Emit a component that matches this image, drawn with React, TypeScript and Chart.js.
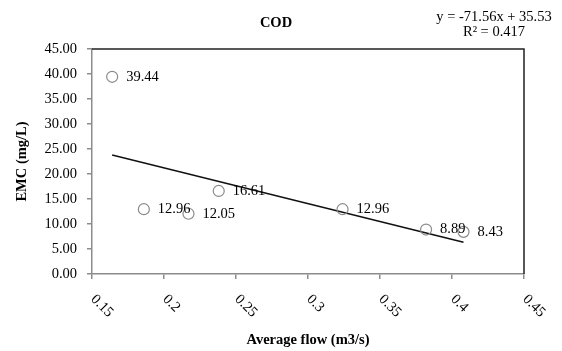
import React, { useEffect, useRef } from "react";
import { Chart, registerables } from "chart.js";

Chart.register(...registerables);

const chartTitle = "COD";
const xAxisTitle = "Average flow (m3/s)";
const yAxisTitle = "EMC (mg/L)";
const flowValues = [0.164, 0.186, 0.217, 0.238, 0.324, 0.382, 0.408];
const emcValues = [39.44, 12.96, 12.05, 16.61, 12.96, 8.89, 8.43];
const pointLabels = ["39.44", "12.96", "12.05", "16.61", "12.96", "8.89", "8.43"];
const xTickLabels = ["0.15", "0.2", "0.25", "0.3", "0.35", "0.4", "0.45"];
const trendSlope = -71.56;
const trendIntercept = 35.53;
const equationLines = ["y = -71.56x + 35.53", "R\u00b2 = 0.417"];

const FONT = "'Liberation Serif', 'Times New Roman', serif";

export default function App() {
  const ref = useRef<HTMLCanvasElement | null>(null);

  useEffect(() => {
    document.body.style.margin = "0";
    const canvas = ref.current;
    if (!canvas) return;

    const xMin = Math.min(...flowValues);
    const xMax = Math.max(...flowValues);
    const trendData = [
      { x: xMin, y: trendSlope * xMin + trendIntercept },
      { x: xMax, y: trendSlope * xMax + trendIntercept },
    ];

    const overlay = {
      id: "overlay",
      afterDraw(chart: any) {
        const ctx = chart.ctx as CanvasRenderingContext2D;
        const area = chart.chartArea;
        const xs = chart.scales.x;
        ctx.save();
        // plot border top/right
        ctx.strokeStyle = "#222";
        ctx.lineWidth = 1.5;
        ctx.beginPath();
        ctx.moveTo(area.left, area.top);
        ctx.lineTo(area.right, area.top);
        ctx.lineTo(area.right, area.bottom);
        ctx.stroke();

        // x tick labels rotated
        ctx.fillStyle = "#000";
        ctx.font = `14.5px ${FONT}`;
        ctx.textAlign = "left";
        ctx.textBaseline = "middle";
        xs.ticks.forEach((t: any, i: number) => {
          const px = xs.getPixelForValue(t.value);
          ctx.save();
          ctx.translate(px + 1, area.bottom + 23);
          ctx.rotate(Math.PI / 4);
          ctx.fillText(xTickLabels[i] ?? String(t.value), 0, 0);
          ctx.restore();
        });

        // data labels
        const meta = chart.getDatasetMeta(0);
        meta.data.forEach((el: any, i: number) => {
          ctx.fillText(pointLabels[i], el.x + 14, el.y);
        });

        // title
        ctx.font = `bold 14.5px ${FONT}`;
        ctx.textAlign = "center";
        ctx.fillText(chartTitle, 276, 23);

        // equation
        ctx.font = `14.5px ${FONT}`;
        ctx.fillText(equationLines[0], 494, 17);
        ctx.fillText(equationLines[1], 494, 32);

        // axis titles
        ctx.font = `bold 14.5px ${FONT}`;
        ctx.fillText(xAxisTitle, (area.left + area.right) / 2, 340);
        ctx.save();
        ctx.translate(22.5, (area.top + area.bottom) / 2);
        ctx.rotate(-Math.PI / 2);
        ctx.fillText(yAxisTitle, 0, 0);
        ctx.restore();
        ctx.restore();
      },
    };

    const chart = new Chart(canvas, {
      type: "scatter",
      data: {
        datasets: [
          {
            label: "EMC",
            data: flowValues.map((x, i) => ({ x, y: emcValues[i] })),
            pointStyle: "circle",
            pointRadius: 5.5,
            pointBorderColor: "#8a8a8a",
            pointBackgroundColor: "rgba(255,255,255,0)",
            pointBorderWidth: 1.2,
            showLine: false,
          },
          {
            type: "line",
            label: "Trend",
            data: trendData,
            borderColor: "#111",
            borderWidth: 1.5,
            pointRadius: 0,
            showLine: true,
            fill: false,
          } as any,
        ],
      },
      options: {
        responsive: false,
        animation: false,
        layout: { padding: { top: 49, right: 38, left: 0, bottom: 0 } },
        plugins: {
          legend: { display: false },
          tooltip: { enabled: false },
          title: { display: false },
        },
        scales: {
          x: {
            type: "linear",
            min: 0.15,
            max: 0.45,
            ticks: {
              stepSize: 0.05,
              color: "rgba(0,0,0,0)",
              font: { family: FONT, size: 14 },
              maxRotation: 0,
              callback: (_v: any, i: number) => xTickLabels[i],
            },
            grid: {
              drawOnChartArea: false,
              drawTicks: true,
              tickLength: 5,
              color: "#8c8c8c",
              lineWidth: 1.5,
            },
            border: { color: "#8c8c8c", width: 1.5 },
            afterFit: (s: any) => {
              s.height = 77;
            },
          },
          y: {
            type: "linear",
            min: 0,
            max: 45,
            ticks: {
              stepSize: 5,
              padding: 10,
              color: "#000",
              font: { family: FONT, size: 14.5 },
              callback: (v: any) => Number(v).toFixed(2),
            },
            grid: {
              drawOnChartArea: false,
              drawTicks: true,
              tickLength: 5,
              color: "#8c8c8c",
              lineWidth: 1.5,
            },
            border: { color: "#8c8c8c", width: 1.5 },
            afterFit: (s: any) => {
              s.width = 92;
            },
          },
        },
      },
      plugins: [overlay],
    });

    return () => chart.destroy();
  }, []);

  return (
    <div style={{ width: 562, height: 351, background: "#fff" }}>
      <canvas ref={ref} width={562} height={351} />
    </div>
  );
}
